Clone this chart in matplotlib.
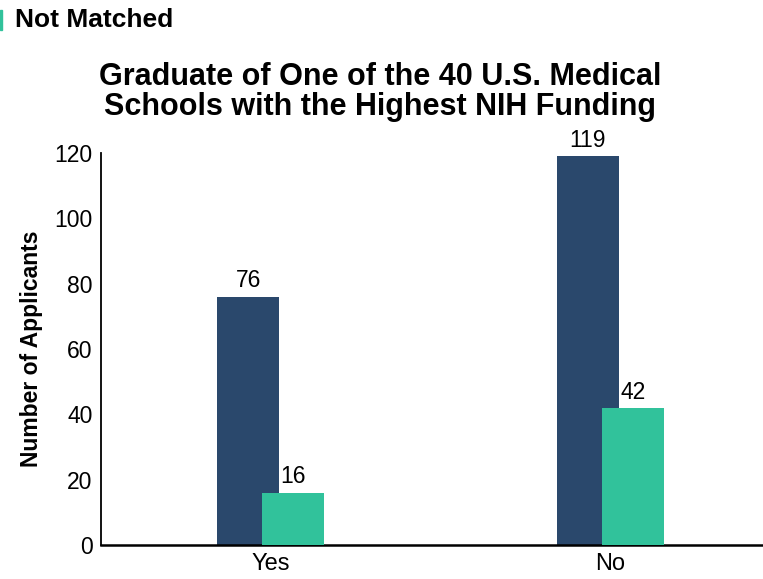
import matplotlib.pyplot as plt
from matplotlib.patches import Rectangle
import numpy as np

plt.rcParams['font.family'] = ['Liberation Sans', 'DejaVu Sans']

categories = ["Yes", "No"]
matched = [76, 119]
not_matched = [16, 42]

navy = "#2a486c"
teal = "#31c29b"

fig = plt.figure(figsize=(7.63, 5.79), dpi=100)
ax = fig.add_axes([101 / 763, 1 - 545 / 579, (780 - 101) / 763, (545 - 153) / 579])

x = np.arange(len(categories))
w = 0.183
off = 0.066
b1 = ax.bar(x - off, matched, w, color=navy, zorder=2)
b2 = ax.bar(x + off, not_matched, w, color=teal, zorder=3)

for bars in (b1, b2):
    for r in bars:
        ax.text(r.get_x() + r.get_width() / 2, r.get_height() + 1.3, str(int(r.get_height())),
                ha="center", va="bottom", fontsize=16.5, zorder=4)

ax.set_xlim(-0.5, 1.5)
ax.set_ylim(0, 120)
ax.set_yticks([0, 20, 40, 60, 80, 100, 120])
ax.set_xticks(x)
ax.set_xticklabels(categories)
ax.tick_params(axis="y", length=0, labelsize=16.5, pad=6)
ax.tick_params(axis="x", length=0, labelsize=17, pad=6)
for s in ("top", "right"):
    ax.spines[s].set_visible(False)
ax.spines["left"].set_linewidth(1.3)
ax.spines["bottom"].set_linewidth(1.8)

ax.set_ylabel("Number of Applicants", fontsize=16.5, fontweight="bold", labelpad=8)
fig.text(380 / 763, 1 - 92 / 579, "Graduate of One of the 40 U.S. Medical\nSchools with the Highest NIH Funding",
         ha="center", va="center", fontsize=22, fontweight="bold", linespacing=1.0)

# legend (first entry cut off at the left edge)
fig.patches.append(Rectangle((0, 1 - 30 / 579), 2 / 763, 20 / 579, transform=fig.transFigure,
                             color=teal, figure=fig))
fig.text(15 / 763, 1 - 20 / 579, "Not Matched", ha="left", va="center", fontsize=19, fontweight="bold")

fig.savefig("out.png", dpi=100)
